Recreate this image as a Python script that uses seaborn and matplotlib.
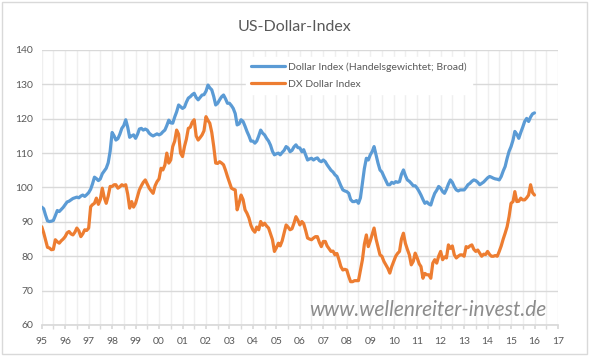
import pandas as pd
import matplotlib.pyplot as plt
import matplotlib.dates as mdates
import seaborn as sns

# monthly values Jan 1995 .. Jan 2016
broad = [
    94.3, 93.8, 92.0, 90.3, 90.1, 90.2, 90.4, 91.8, 93.3, 93.0, 93.6, 94.2,        # 95
    95.0, 95.8, 96.0, 96.4, 96.8, 97.0, 97.2, 97.0, 97.5, 97.8, 97.4, 97.9,        # 96
    98.5, 99.5, 101.0, 103.0, 102.6, 102.0, 102.5, 104.0, 104.8, 105.6, 107.2, 110.5,  # 97
    116.0, 115.0, 113.8, 114.2, 115.5, 117.2, 118.0, 119.7, 117.5, 114.6, 115.0, 115.3,  # 98
    114.3, 115.5, 117.0, 117.2, 116.7, 117.0, 116.7, 115.8, 115.3, 115.0, 115.3, 115.6,  # 99
    115.3, 115.6, 116.2, 116.7, 118.0, 119.6, 118.8, 118.7, 120.5, 122.0, 124.0, 123.5,  # 00
    123.0, 123.4, 124.8, 126.0, 126.4, 127.0, 127.4, 126.2, 125.5, 126.2, 126.9, 127.0,  # 01
    128.0, 129.8, 129.0, 128.4, 126.5, 124.0, 124.5, 125.5, 126.4, 126.9, 125.8, 124.5,  # 02
    124.5, 123.8, 123.0, 121.5, 118.2, 118.5, 119.7, 119.2, 117.8, 116.3, 115.0, 113.5,  # 03
    113.5, 112.9, 113.5, 115.0, 116.7, 115.8, 115.3, 114.3, 113.5, 112.3, 110.5, 109.5,  # 04
    109.8, 110.0, 109.5, 110.2, 110.8, 111.9, 111.5, 110.4, 110.8, 111.8, 112.4, 111.6,  # 05
    111.5, 110.4, 111.0, 109.5, 108.0, 108.3, 108.5, 108.0, 108.4, 108.6, 107.8, 107.5,  # 06
    108.0, 107.5, 106.6, 105.8, 105.0, 104.5, 103.7, 103.2, 101.8, 100.5, 99.3, 99.0,    # 07
    98.8, 98.3, 96.5, 95.9, 95.9, 96.2, 95.4, 97.0, 101.2, 105.5, 108.5, 108.0,          # 08
    109.5, 110.5, 111.9, 109.5, 107.1, 105.1, 104.5, 103.2, 102.0, 100.8, 100.8, 101.5,  # 09
    101.2, 101.7, 101.5, 101.7, 103.8, 105.1, 103.5, 102.2, 101.8, 101.2, 100.5, 100.5,  # 10
    99.8, 98.8, 97.8, 96.5, 95.4, 95.8, 95.2, 94.9, 96.8, 98.3, 99.2, 100.3,             # 11
    99.8, 98.8, 98.3, 99.5, 101.0, 102.2, 101.5, 100.2, 99.3, 99.0, 99.3, 99.3,          # 12
    99.3, 100.0, 100.8, 101.2, 101.8, 102.2, 102.0, 101.5, 100.8, 101.2, 101.6, 102.2,   # 13
    102.8, 103.2, 103.0, 102.7, 102.5, 102.4, 102.2, 103.2, 104.8, 106.1, 108.5, 110.5,  # 14
    111.9, 113.8, 116.3, 115.5, 114.3, 116.0, 117.5, 119.2, 120.1, 119.2, 120.5, 121.4,  # 15
    121.7,                                                                               # 16
]

dx = [
    88.6, 86.8, 84.8, 82.6, 82.4, 81.9, 82.0, 84.8, 84.2, 83.8, 84.5, 85.0,        # 95
    85.7, 86.8, 87.2, 86.5, 86.2, 87.0, 88.2, 87.4, 85.7, 86.5, 87.7, 87.5,        # 96
    88.2, 94.4, 95.0, 95.4, 96.9, 95.1, 96.5, 99.8, 97.0, 95.4, 97.5, 100.3,       # 97
    100.3, 100.8, 100.8, 99.8, 100.2, 100.8, 100.5, 100.8, 98.0, 94.0, 95.9, 94.3,  # 98
    95.4, 97.5, 99.3, 100.5, 101.5, 102.2, 101.0, 99.8, 99.0, 98.3, 100.5, 101.7,   # 99
    102.5, 105.6, 105.1, 106.5, 110.0, 107.1, 108.0, 111.9, 113.5, 116.7, 115.5, 110.0,  # 00
    109.0, 112.0, 114.0, 117.2, 117.5, 119.0, 119.7, 115.0, 113.8, 114.5, 115.3, 116.5,  # 01
    120.6, 119.5, 118.7, 116.0, 112.0, 107.1, 107.0, 107.5, 107.1, 106.6, 105.0, 103.2,  # 02
    101.5, 99.8, 99.5, 99.3, 93.5, 95.5, 97.8, 96.5, 93.5, 92.5, 91.1, 89.0,        # 03
    87.7, 87.0, 88.5, 87.7, 90.1, 89.0, 89.6, 88.8, 88.2, 86.5, 84.8, 81.4,         # 04
    82.5, 83.8, 83.0, 84.5, 86.7, 89.1, 88.5, 87.7, 88.0, 89.6, 91.5, 90.5,         # 05
    89.1, 90.1, 89.5, 87.5, 85.3, 85.0, 84.8, 85.3, 85.7, 85.7, 84.0, 82.8,         # 06
    84.3, 84.3, 83.0, 82.2, 81.4, 81.5, 80.4, 80.8, 79.0, 77.0, 76.0, 76.2,         # 07
    76.0, 74.1, 72.6, 72.6, 72.9, 72.9, 72.9, 76.0, 79.0, 83.5, 86.2, 82.8,         # 08
    84.5, 86.5, 88.2, 85.0, 82.8, 80.4, 80.0, 78.5, 77.5, 76.5, 75.1, 77.0,         # 09
    78.5, 80.0, 80.8, 81.4, 85.0, 86.7, 83.8, 82.0, 80.4, 77.5, 78.5, 80.9,         # 10
    79.5, 77.8, 77.0, 73.6, 75.0, 74.6, 74.6, 73.6, 78.0, 79.0, 78.0, 80.0,         # 11
    81.4, 79.0, 79.8, 79.5, 83.3, 82.3, 83.0, 80.4, 79.5, 80.0, 80.4, 80.4,         # 12
    80.0, 82.8, 82.5, 83.0, 83.3, 82.0, 81.4, 81.8, 80.9, 80.0, 80.6, 80.5,         # 13
    81.4, 80.5, 80.0, 80.0, 80.2, 80.0, 81.4, 83.0, 85.0, 86.7, 88.6, 91.5,         # 14
    95.4, 95.9, 98.8, 95.9, 96.0, 96.9, 96.4, 96.4, 97.0, 97.8, 100.8, 98.5,        # 15
    97.8,                                                                           # 16
]

dates = pd.date_range("1995-01-01", periods=len(broad), freq="MS")
name_broad = "Dollar Index (Handelsgewichtet; Broad)"
name_dx = "DX Dollar Index"

df = pd.concat([
    pd.DataFrame({"date": dates, "value": broad, "series": name_broad}),
    pd.DataFrame({"date": dates, "value": dx, "series": name_dx}),
])

sns.set_theme(style="white")
plt.rcParams["font.family"] = ["Lato", "DejaVu Sans"]

fig = plt.figure(figsize=(5.89, 3.56), dpi=100)
ax = fig.add_axes([0.0708, 0.0871, 0.8766, 0.7725])

sns.lineplot(ax=ax, data=df, x="date", y="value", hue="series",
             palette=["#5B9BD5", "#ED7D31"], linewidth=2.3)

ax.set_xlim(pd.Timestamp("1995-01-01"), pd.Timestamp("2017-01-01"))
ax.set_ylim(60, 140)
ax.set_yticks(range(60, 141, 10))
ax.xaxis.set_major_locator(mdates.YearLocator())
ax.xaxis.set_major_formatter(mdates.DateFormatter("%y"))
ax.xaxis.set_minor_locator(mdates.MonthLocator(bymonth=[1, 7]))

ax.grid(axis="y", color="#d9d9d9", linewidth=1)
ax.grid(axis="x", which="both", color="#efefef", linewidth=1)
ax.set_axisbelow(True)
for s in ["top", "right", "left"]:
    ax.spines[s].set_visible(False)
ax.spines["bottom"].set_color("#d9d9d9")
ax.tick_params(axis="both", labelsize=7.5, colors="#595959", length=0, pad=6)
ax.tick_params(axis="x", which="both", bottom=True, length=3, color="#d9d9d9")
ax.set_xlabel("")
ax.set_ylabel("")

leg = ax.legend(loc="upper left", bbox_to_anchor=(0.395, 0.975), frameon=True,
                fontsize=7.5, handlelength=3.3, handletextpad=0.3,
                borderpad=0.5, labelspacing=0.75, borderaxespad=0)
leg.get_frame().set_facecolor("white")
leg.get_frame().set_edgecolor("white")
leg.get_frame().set_alpha(1)
for t in leg.get_texts():
    t.set_color("#595959")

fig.text(0.5, 0.925, "US-Dollar-Index", ha="center", va="center",
         fontsize=11.5, color="#595959")
fig.text(0.727, 0.13, "www.wellenreiter-invest.de", ha="center", va="center",
         fontsize=15, color="#8c8c8c", style="italic")

fig.patches.append(plt.Rectangle((0.004, 0.006), 0.992, 0.988, transform=fig.transFigure,
                                 fill=False, edgecolor="#d9d9d9", linewidth=1))

fig.savefig("out.png", dpi=100, facecolor="white")
